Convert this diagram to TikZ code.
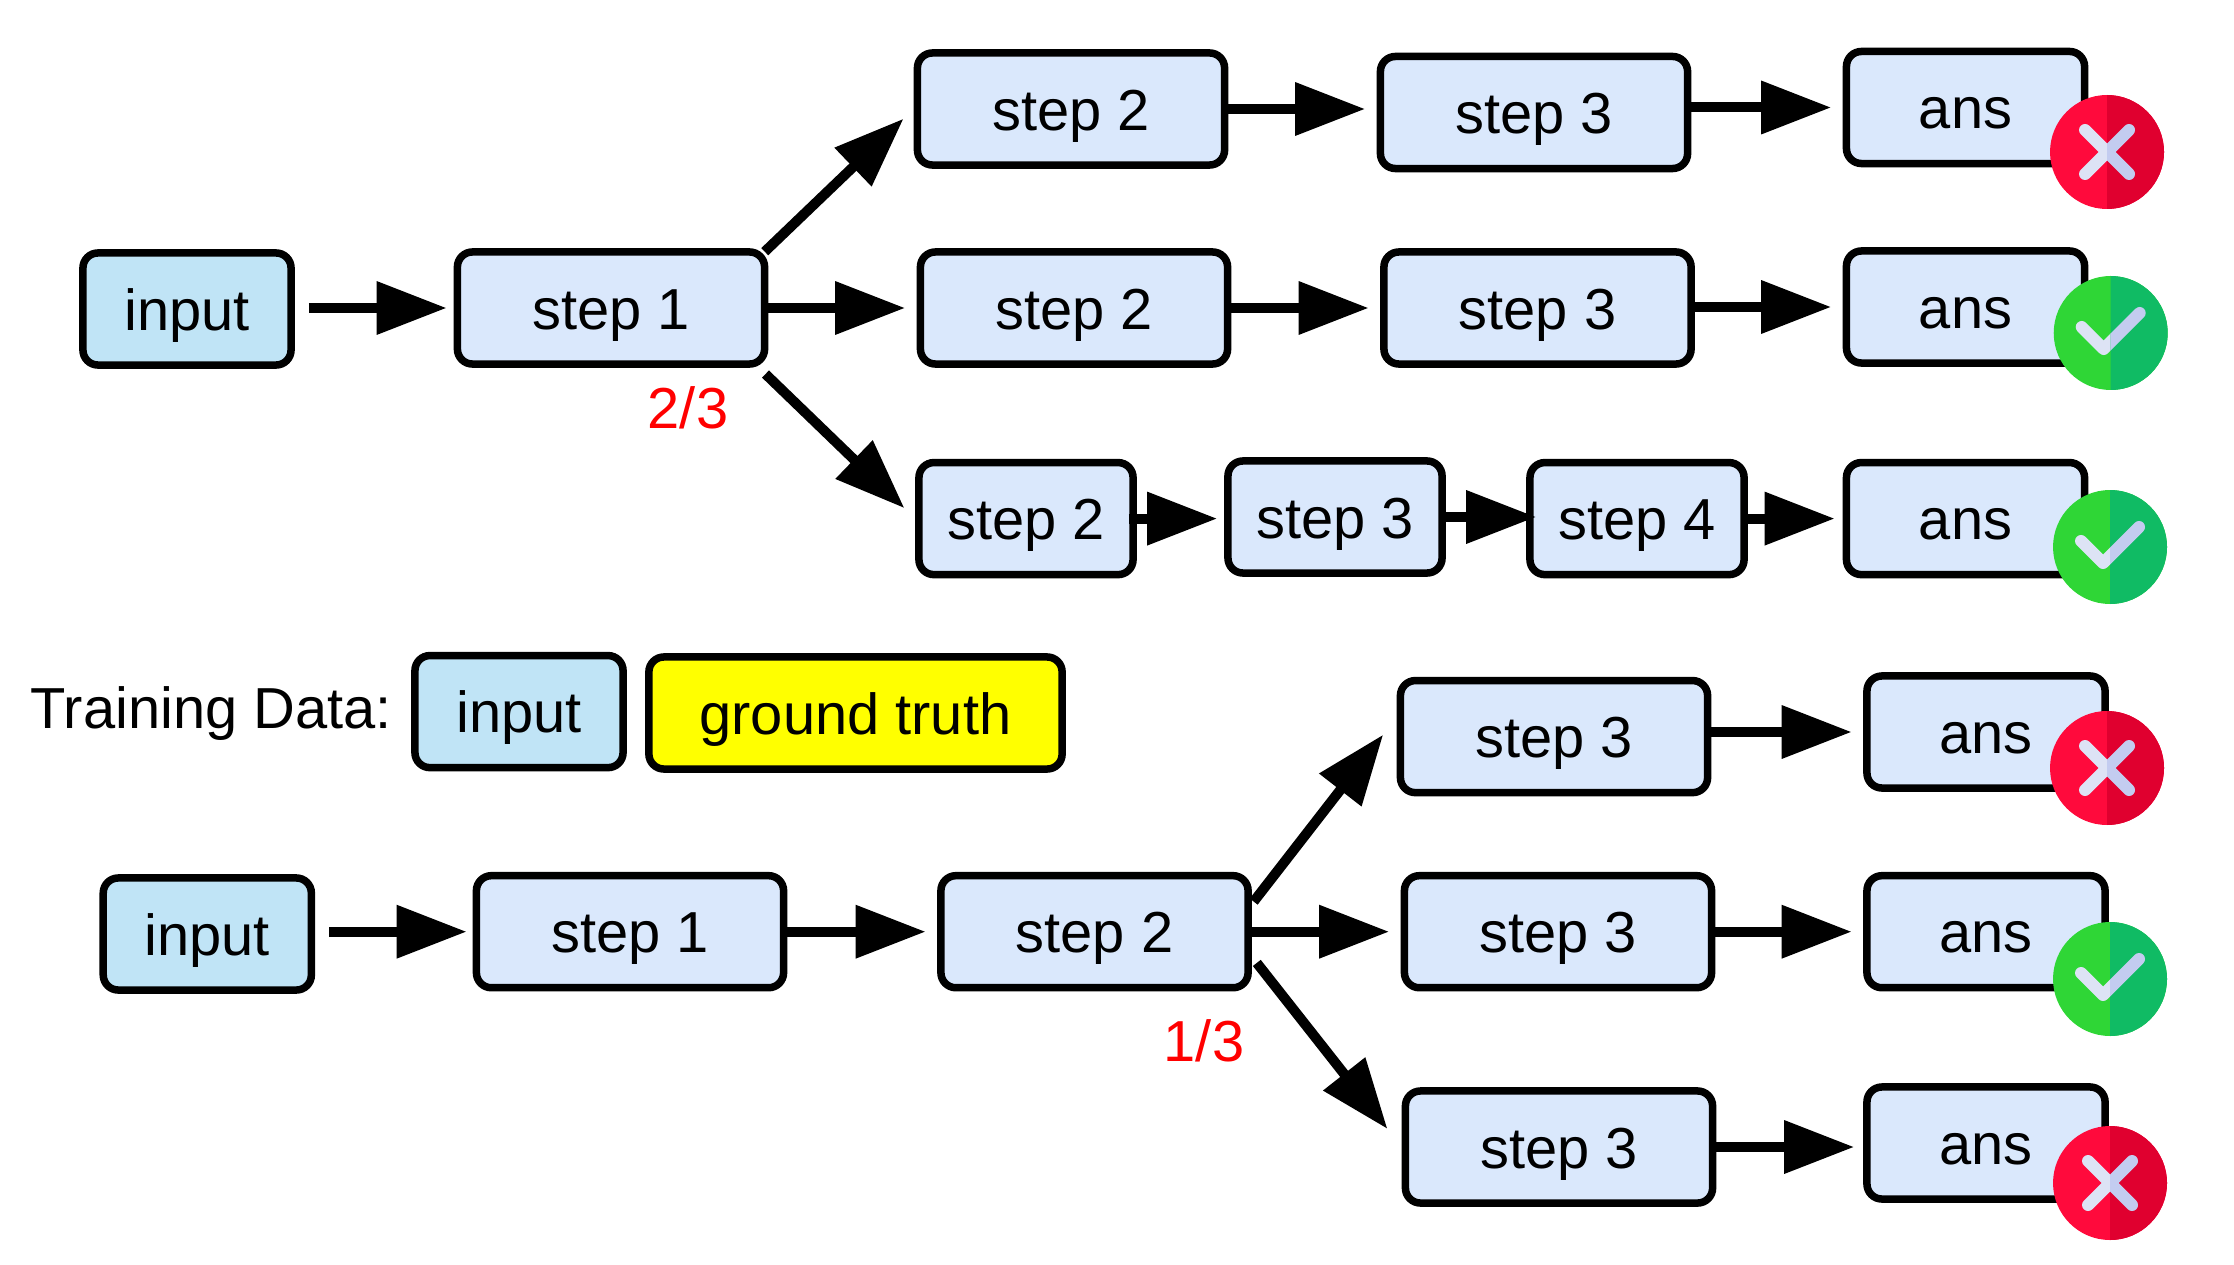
\documentclass[tikz,border=0pt]{standalone}
\usepackage{fontspec}
\setmainfont{Liberation Sans}
\usetikzlibrary{arrows.meta}
\definecolor{stepblue}{HTML}{DAE8FC}
\definecolor{inputblue}{HTML}{C0E4F6}
\definecolor{truthyellow}{HTML}{FFFF00}
\definecolor{crossred}{HTML}{FF0A3C}
\definecolor{crossdark}{HTML}{E0002F}
\definecolor{checkgreen}{HTML}{2FD636}
\definecolor{checkdark}{HTML}{10BB64}
\definecolor{marklight}{HTML}{DDE3F5}
\definecolor{markdark}{HTML}{C3CCF0}
\tikzset{
  box/.style={draw=black, line width=0.075cm, rounded corners=0.15cm, fill=stepblue, inner sep=0pt,
    minimum height=1.12cm, text height=5.2mm, text depth=1mm, font=\fontsize{16.45}{18}\selectfont},
  stepbox/.style={box, minimum width=3.07cm},
  shortbox/.style={box, minimum width=2.14cm},
  ansbox/.style={box, minimum width=2.38cm},
  inputbox/.style={box, minimum width=2.08cm, fill=inputblue},
  flow/.style={line width=0.1cm, -{Triangle[length=0.7cm, width=0.51cm]}, shorten >=0.115cm},
  pics/wrongmark/.style={code={
    \fill[crossred] (0,0) circle (57);
    \draw[marklight, line width=0.12cm, line cap=round] (-22,-22) -- (22,22) (-22,22) -- (22,-22);
    \begin{scope}
      \clip (0,-60) rectangle (60,60);
      \fill[crossdark] (0,0) circle (57);
      \draw[markdark, line width=0.12cm, line cap=round] (-22,-22) -- (22,22) (-22,22) -- (22,-22);
    \end{scope}
  }},
  pics/rightmark/.style={code={
    \fill[checkgreen] (0,0) circle (57);
    \draw[marklight, line width=0.12cm, line cap=round, line join=round] (-29,-6) -- (-7,16) -- (29,-20);
    \begin{scope}
      \clip (0,-60) rectangle (60,60);
      \fill[checkdark] (0,0) circle (57);
      \draw[markdark, line width=0.12cm, line cap=round, line join=round] (-29,-6) -- (-7,16) -- (29,-20);
    \end{scope}
  }}
}
\begin{document}
\begin{tikzpicture}[x=0.01cm, y=-0.01cm, font=\fontsize{16.45}{18}\selectfont]
  \useasboundingbox (0,0) rectangle (2234,1264);
  % upper tree
  \node[inputbox] (inA) at (187,309) {input};
  \node[stepbox] (oneA) at (611,308) {step 1};
  \node[stepbox] (twoA) at (1071,109) {step 2};
  \node[stepbox] (threeA) at (1534,112.5) {step 3};
  \node[ansbox] (ansA) at (1965.5,107.5) {ans};
  \node[stepbox] (twoB) at (1074,308) {step 2};
  \node[stepbox] (threeB) at (1537.5,308) {step 3};
  \node[ansbox] (ansB) at (1965.5,307) {ans};
  \node[shortbox] (twoC) at (1026,518.6) {step 2};
  \node[shortbox] (threeC) at (1335,517) {step 3};
  \node[shortbox] (fourC) at (1637,518.6) {step 4};
  \node[ansbox] (ansC) at (1965.5,518.6) {ans};
  \node[anchor=base, text=red] (rateA) at (688,428) {2/3};
  % legend
  \node[anchor=base west, inner sep=0pt] (legend) at (30,728) {Training Data:};
  \node[inputbox] (inKey) at (519,711.6) {input};
  \node[box, minimum width=4.13cm, fill=truthyellow] (truthKey) at (855.5,713) {ground truth};
  % lower tree
  \node[inputbox] (inD) at (207.3,934) {input};
  \node[stepbox] (oneD) at (630,931.7) {step 1};
  \node[stepbox] (twoD) at (1094.5,931.7) {step 2};
  \node[stepbox] (threeD) at (1554,736.6) {step 3};
  \node[ansbox] (ansD) at (1986,732) {ans};
  \node[stepbox] (threeE) at (1558,931.7) {step 3};
  \node[ansbox] (ansE) at (1986,931.7) {ans};
  \node[stepbox] (threeF) at (1559,1147) {step 3};
  \node[ansbox] (ansF) at (1986,1143) {ans};
  \node[anchor=base, text=red] (rateD) at (1204,1061) {1/3};
  % arrows upper
  \draw[flow, shorten <=0.14cm, shorten >=0.07cm] (inA.east |- oneA.west) -- (oneA.west);
  \draw[flow, shorten <=-0.05cm, shorten >=0.14cm] (oneA.north east) -- (twoA.west);
  \draw[flow] (oneA.east) -- (twoB.west);
  \draw[flow, shorten <=0.09cm, shorten >=0.15cm] (oneA.-22.5) -- (twoC.west);
  \draw[flow] (twoA.east) -- (twoA.east -| threeA.west);
  \draw[flow] (ansA.west -| threeA.east) -- (ansA.west);
  \draw[flow] (twoB.east) -- (threeB.west);
  \draw[flow] (ansB.west -| threeB.east) -- (ansB.west);
  \draw[flow, shorten <=-0.08cm, shorten >=0.07cm] (twoC.east) -- (twoC.east -| threeC.west);
  \draw[flow, shorten >=-0.10cm] (threeC.east) -- (threeC.east -| fourC.west);
  \draw[flow, shorten >=0.08cm] (fourC.east) -- (fourC.east -| ansC.west);
  % arrows lower
  \draw[flow, shorten <=0.14cm, shorten >=0.06cm] (inD.east |- oneD.west) -- (oneD.west);
  \draw[flow] (oneD.east) -- (twoD.west);
  \draw[flow, shorten <=0.03cm, shorten >=0.22cm] (twoD.10) -- (threeD.173);
  \draw[flow] (twoD.east) -- (threeE.west);
  \draw[flow, shorten <=0.08cm, shorten >=0.23cm] (twoD.-9.4) -- (threeF.west);
  \draw[flow] (ansD.west -| threeD.east) -- (ansD.west);
  \draw[flow] (threeE.east) -- (ansE.west);
  \draw[flow, shorten >=0.09cm] (threeF.east) -- (threeF.east -| ansF.west);
  % marks
  \pic at (2107,152) {wrongmark};
  \pic at (2110.7,333) {rightmark};
  \pic at (2110,547) {rightmark};
  \pic at (2107,768) {wrongmark};
  \pic at (2110,979) {rightmark};
  \pic at (2110,1183) {wrongmark};
\end{tikzpicture}
\end{document}
